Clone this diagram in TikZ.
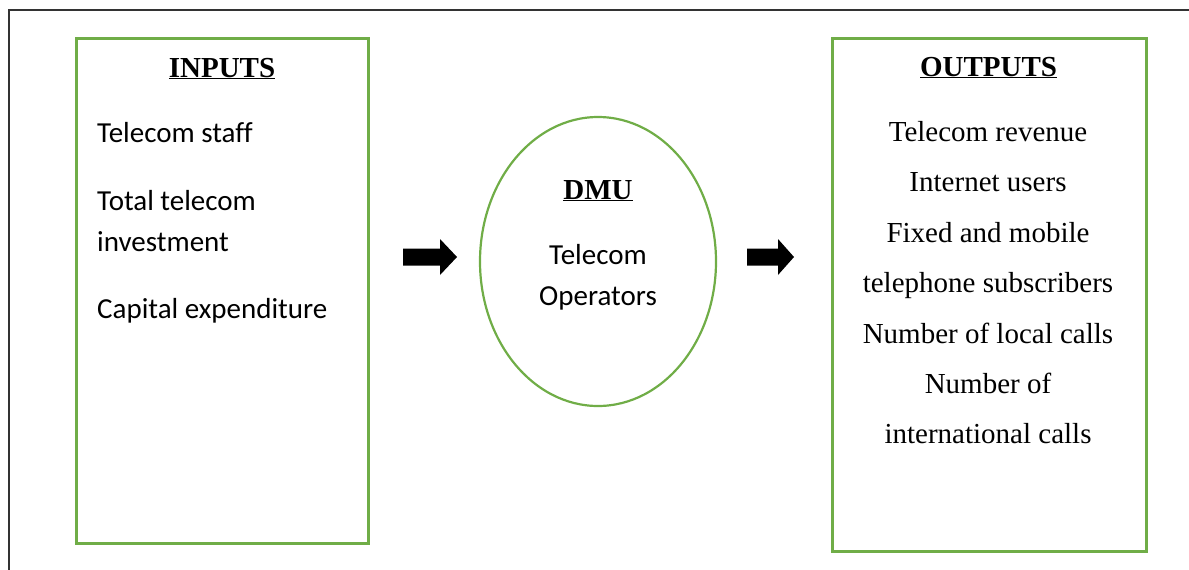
\documentclass[tikz,border=0pt]{standalone}
\usepackage{fontspec}
\setmainfont{Liberation Serif}
\newfontfamily\timesfnt{Liberation Serif}
\newfontfamily\califnt[Ligatures=NoCommon]{Carlito}
\usetikzlibrary{shapes.geometric}
\definecolor{boxgreen}{HTML}{70AD47}
\definecolor{framegray}{HTML}{333333}
\tikzset{
  greenbox/.style={draw=boxgreen, line width=3pt, rectangle, inner sep=0pt},
  greenoval/.style={draw=boxgreen, line width=2.2pt, ellipse, inner sep=0pt},
  titletext/.style={font=\timesfnt\bfseries\fontsize{29}{35}\selectfont, inner sep=0pt, anchor=base},
  intext/.style={font=\califnt\fontsize{29}{35}\selectfont, inner sep=0pt, anchor=base west},
  midtext/.style={font=\califnt\fontsize{29}{35}\selectfont, inner sep=0pt, anchor=base},
  outtext/.style={font=\timesfnt\fontsize{29}{35}\selectfont, inner sep=0pt, anchor=base},
  blockarrow/.style={fill=black, draw=none}
}
\begin{document}
\begin{tikzpicture}[x=1pt, y=-1pt]
\useasboundingbox (0,0) rectangle (1189,570);
% outer frame (partly visible)
\draw[framegray, line width=1.3pt] (9,570) -- (9,10) -- (1189,10);

% boxes
\node[greenbox, minimum width=291.5pt, minimum height=505pt] (inbox) at (222.3,290.5) {};
\node[greenbox, minimum width=314pt, minimum height=513pt] (outbox) at (989,294.5) {};
\node[greenoval, minimum width=236pt, minimum height=289pt] (dmu) at (598,261.5) {};

% inputs
\node[titletext] (intitle) at (222,77) {\underline{INPUTS}};
\node[intext] (in1) at (97,142) {Telecom staff};
\node[intext] (in2a) at (97,210) {Total telecom};
\node[intext] (in2b) at (97,251) {investment};
\node[intext] (in3) at (97,318) {Capital expenditure};

% DMU
\node[titletext] (dmutitle) at (598,199) {\underline{DMU}};
\node[midtext] (dmu1) at (598,264) {Telecom};
\node[midtext] (dmu2) at (598,305) {Operators};

% outputs
\node[titletext] (outtitle) at (988.5,76) {\underline{OUTPUTS}};
\node[outtext] (o1) at (988,141) {Telecom revenue};
\node[outtext] (o2) at (988,191) {Internet users};
\node[outtext] (o3) at (988,242) {Fixed and mobile};
\node[outtext] (o4) at (988,292) {telephone subscribers};
\node[outtext] (o5) at (988,343) {Number of local calls};
\node[outtext] (o6) at (988,393) {Number of};
\node[outtext] (o7) at (988,443) {international calls};

% block arrows
\coordinate (a1) at (403,257);
\coordinate (a2) at (747,257);
\fill[blockarrow] (a1) ++(0,-8.5) -- ++(37,0) -- ++(0,-9.5) -- (457,257) -- (440,275) -- ++(0,-9.5) -- ++(-37,0) -- cycle;
\fill[blockarrow] (a2) ++(0,-8.5) -- ++(31,0) -- ++(0,-9.5) -- (794,257) -- (778,275) -- ++(0,-9.5) -- ++(-31,0) -- cycle;
\end{tikzpicture}
\end{document}
